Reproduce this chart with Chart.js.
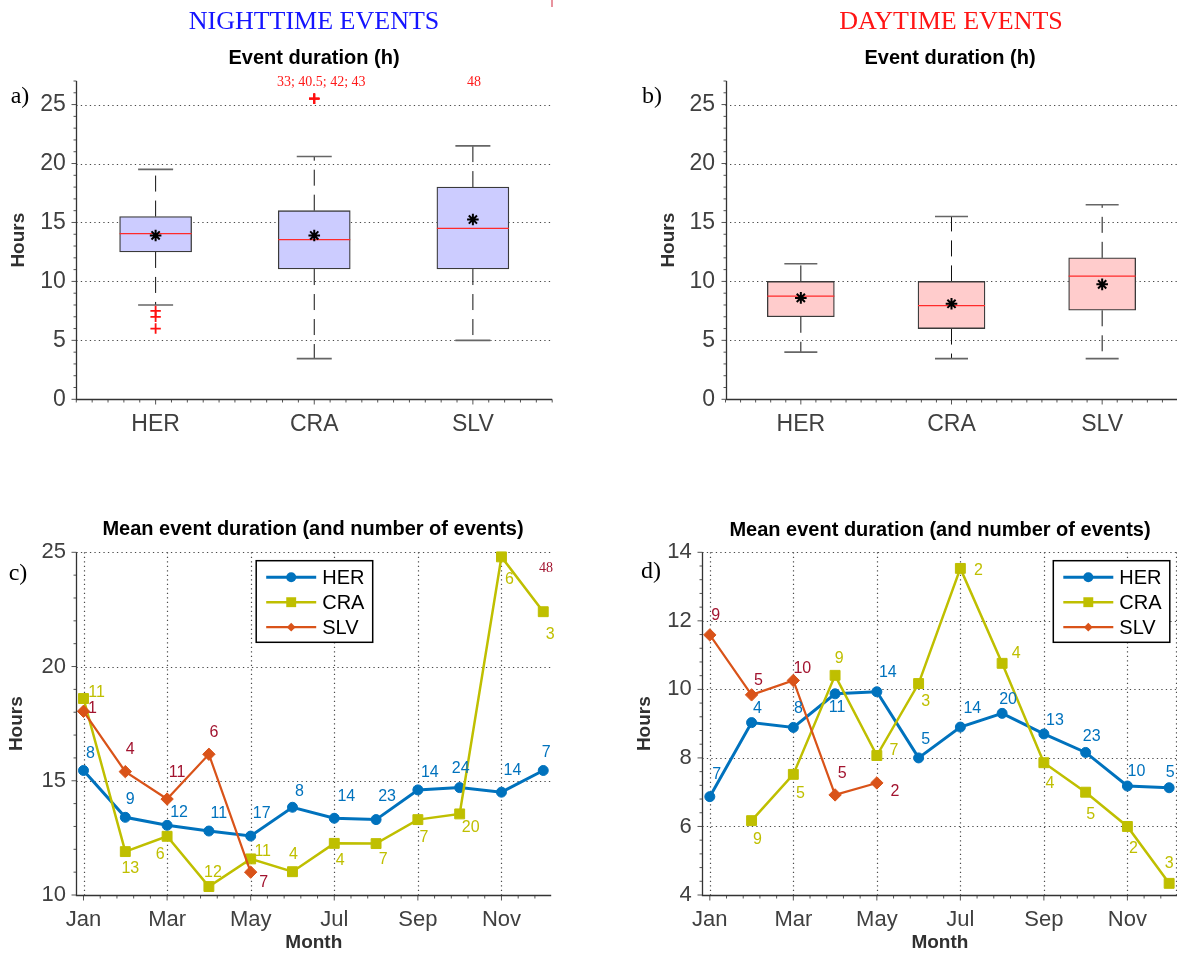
<!DOCTYPE html>
<html>
<head>
<meta charset="utf-8">
<script src="https://cdn.jsdelivr.net/npm/chart.js@4.4.1/dist/chart.umd.min.js"></script>
<style>
  html, body { margin: 0; padding: 0; background: #fff; }
  body { width: 1177px; height: 955px; overflow: hidden; position: relative; }
  canvas { position: absolute; }
  .t { position: absolute; white-space: nowrap; transform: translate(-50%, -50%); line-height: 1; }
  .sans { font-family: "Liberation Sans", Arial, Helvetica, sans-serif; }
  .serif { font-family: "Liberation Serif", "Times New Roman", serif; }
  .bold { font-weight: bold; }
</style>
</head>
<body>
<canvas id="night-box" width="560" height="460" style="left:0;top:0"></canvas>
<canvas id="day-box" width="590" height="460" style="left:590px;top:0"></canvas>
<canvas id="night-month" width="575" height="485" style="left:0;top:470px"></canvas>
<canvas id="day-month" width="590" height="485" style="left:590px;top:470px"></canvas>

<div class="t serif" style="left:314px;top:21px;font-size:26px;color:#1414ff">NIGHTTIME EVENTS</div>
<div class="t serif" style="left:951px;top:21px;font-size:26px;color:#ff1414">DAYTIME EVENTS</div>
<div class="t sans bold" style="left:314px;top:57px;font-size:20px;color:#000">Event duration (h)</div>
<div class="t sans bold" style="left:950px;top:57px;font-size:20px;color:#000">Event duration (h)</div>
<div class="t sans bold" style="left:313px;top:528px;font-size:20px;color:#000">Mean event duration (and number of events)</div>
<div class="t sans bold" style="left:940px;top:529px;font-size:20px;color:#000">Mean event duration (and number of events)</div>
<div class="t serif" style="left:20px;top:95px;font-size:24px;color:#000">a)</div>
<div class="t serif" style="left:652px;top:95px;font-size:24px;color:#000">b)</div>
<div class="t serif" style="left:18px;top:572px;font-size:24px;color:#000">c)</div>
<div class="t serif" style="left:651px;top:570px;font-size:24px;color:#000">d)</div>
<div class="t serif" style="left:546px;top:568px;font-size:14px;color:#a2142f">48</div>
<div style="position:absolute;left:551px;top:0;width:1.5px;height:7px;background:#e8939e"></div>

<script>
const SANS = '"Liberation Sans", Arial, Helvetica, sans-serif';
const SERIF = '"Liberation Serif", "Times New Roman", serif';

// ---------- event-duration box plots (hours) ----------
const GROUPS = ['HER', 'CRA', 'SLV'];

const NIGHT_LOW    = [8.0, 3.45, 5.0];
const NIGHT_Q1     = [12.5, 11.05, 11.05];
const NIGHT_MEDIAN = [14.05, 13.55, 14.5];
const NIGHT_Q3     = [15.5, 16.0, 18.0];
const NIGHT_HIGH   = [19.5, 20.6, 21.5];
const NIGHT_MEAN   = [13.9, 13.9, 15.25];
const NIGHT_OUTLIERS = [[7.5, 7.0, 6.0], [], []];
const NIGHT_OFFSCALE = [[], [33, 40.5, 42, 43], [48]];
const NIGHT_OFFSCALE_MARKED = ['CRA'];

const DAY_LOW    = [4.0, 3.45, 3.45];
const DAY_Q1     = [7.0, 6.0, 7.55];
const DAY_MEDIAN = [8.75, 7.95, 10.45];
const DAY_Q3     = [10.0, 10.0, 12.0];
const DAY_HIGH   = [11.5, 15.5, 16.5];
const DAY_MEAN   = [8.6, 8.1, 9.75];
const DAY_OUTLIERS = [[], [], []];
const DAY_OFFSCALE = [[], [], []];
const DAY_OFFSCALE_MARKED = [];

const BOX_Y_TICKS = [0, 5, 10, 15, 20, 25];
const BOX_Y_MAX = 27;
const OFFSCALE_PIN = 25.5;   // off-scale outliers are pinned just above the 25 h line

// ---------- monthly mean durations (hours) and event counts ----------
const MONTHS = ['Jan', 'Feb', 'Mar', 'Apr', 'May', 'Jun', 'Jul', 'Aug', 'Sep', 'Oct', 'Nov', 'Dec'];
const MONTH_TICKS = [1, 3, 5, 7, 9, 11];

const NIGHT_HER   = [15.45, 13.4, 13.05, 12.8, 12.58, 13.84, 13.36, 13.3, 14.6, 14.7, 14.5, 15.45];
const NIGHT_CRA   = [18.6, 11.9, 12.57, 10.37, 11.58, 11.02, 12.26, 12.25, 13.3, 13.55, 24.8, 22.4];
const NIGHT_SLV   = [18.04, 15.4, 14.2, 16.16, 11.0];
const NIGHT_HER_N = [8, 9, 12, 11, 17, 8, 14, 23, 14, 24, 14, 7];
const NIGHT_CRA_N = [11, 13, 6, 12, 11, 4, 4, 7, 7, 20, 6, 3];
const NIGHT_SLV_N = [1, 4, 11, 6, 7];
const NIGHT_Y_TICKS = [10, 15, 20, 25];

const DAY_HER   = [6.87, 9.03, 8.89, 9.87, 9.93, 8.0, 8.9, 9.3, 8.7, 8.16, 7.18, 7.13];
const DAY_CRA   = [null, 6.17, 7.52, 10.41, 8.07, 10.17, 13.53, 10.76, 7.86, 7.0, 6.0, 4.34];
const DAY_SLV   = [11.59, 9.84, 10.26, 6.92, 7.27];
const DAY_HER_N = [7, 4, 8, 11, 14, 5, 14, 20, 13, 23, 10, 5];
const DAY_CRA_N = [null, 9, 5, 9, 7, 3, 2, 4, 4, 5, 2, 3];
const DAY_SLV_N = [9, 5, 10, 5, 2];
const DAY_Y_TICKS = [4, 6, 8, 10, 12, 14];

// where each count sits relative to its marker (px)
const NIGHT_HER_TAG = [[7,-17],[5,-18],[12,-13],[10,-17],[11,-22],[7,-16],[12,-22],[11,-23],[12,-17],[1,-19],[11,-22],[3,-18]];
const NIGHT_CRA_TAG = [[13,-6],[5,17],[-7,18],[4,-14],[12,-7],[1,-17],[6,17],[7,16],[6,18],[11,14],[8,23],[7,23]];
const NIGHT_SLV_TAG = [[9,-3],[5,-22],[10,-26],[5,-22],[13,10]];
const DAY_HER_TAG = [[7,-22],[6,-14],[5,-19],[2,14],[11,-19],[7,-18],[12,-18],[6,-14],[11,-13],[6,-16],[9,-14],[1,-15]];
const DAY_CRA_TAG = [null,[6,19],[7,19],[4,-17],[17,-5],[7,18],[18,2],[14,-10],[6,21],[5,22],[6,22],[0,-20]];
const DAY_SLV_TAG = [[6,-19],[7,-14],[9,-12],[7,-21],[18,9]];

const COLOR_HER = '#0072BD';
const COLOR_CRA = '#BFBF00';
const COLOR_SLV = '#D95319';
const TAG_SLV = '#A2142F';

const TICK_COLOR = '#404040';
const AXIS_TITLE_COLOR = '#303030';

// keep the plot rectangle exactly where the layout padding puts it
const pinX = h => sc => { sc.height = h; sc.paddingLeft = 0; sc.paddingRight = 0; sc.paddingTop = 0; sc.paddingBottom = 0; };
const pinY = w => sc => { sc.width = w; sc.paddingLeft = 0; sc.paddingRight = 0; sc.paddingTop = 0; sc.paddingBottom = 0; };

// ---------- shared axis / grid drawing ----------
function matlabAxes(cfg) {
  const gen = (origin, step, lo, hi, majors) => {
    const out = [];
    for (let k = -200; k <= 400; k++) {
      const v = +(origin + k * step).toFixed(6);
      if (v < lo - 1e-6 || v > hi + 1e-6) continue;
      if (majors.some(m => Math.abs(m - v) < 1e-6)) continue;
      out.push(v);
    }
    return out;
  };
  return {
    id: 'matlabAxes',
    beforeDatasetsDraw(chart) {
      const {ctx, chartArea: a} = chart;
      const xs = chart.scales.x, ys = chart.scales.y;
      ctx.save();
      ctx.strokeStyle = '#4a4a4a';
      ctx.lineWidth = 1.2;
      ctx.setLineDash([1.3, 3.2]);
      ctx.beginPath();
      cfg.yGrid.forEach(v => {
        const p = Math.round(ys.getPixelForValue(v)) + 0.5;
        ctx.moveTo(a.left, p); ctx.lineTo(a.right, p);
      });
      (cfg.xGrid || []).forEach(v => {
        const p = Math.round(xs.getPixelForValue(v)) + 0.5;
        ctx.moveTo(p, a.top); ctx.lineTo(p, a.bottom);
      });
      if (cfg.rightEdge) {
        const p = Math.round(a.right) - 1.5;
        ctx.moveTo(p, a.top); ctx.lineTo(p, a.bottom);
      }
      ctx.stroke();
      ctx.restore();
    },
    afterDatasetsDraw(chart) {
      const {ctx, chartArea: a} = chart;
      const xs = chart.scales.x, ys = chart.scales.y;
      const L = Math.round(a.left) + 0.5, B = Math.round(a.bottom) + 0.5;
      ctx.save();
      ctx.setLineDash([]);
      ctx.strokeStyle = '#555';
      ctx.lineWidth = 1;
      ctx.beginPath();
      cfg.yTicks.forEach(v => { const p = ys.getPixelForValue(v); ctx.moveTo(L - 5, p); ctx.lineTo(L, p); });
      gen(cfg.yTicks[0], cfg.yMinor, ys.min, ys.max, cfg.yTicks).forEach(v => {
        const p = ys.getPixelForValue(v); ctx.moveTo(L - 3, p); ctx.lineTo(L, p);
      });
      cfg.xTicks.forEach(v => { const p = xs.getPixelForValue(v); ctx.moveTo(p, B); ctx.lineTo(p, B + 5); });
      gen(cfg.xTicks[0], cfg.xMinor, xs.min, xs.max, cfg.xTicks).forEach(v => {
        const p = xs.getPixelForValue(v); ctx.moveTo(p, B); ctx.lineTo(p, B + 3);
      });
      ctx.stroke();
      ctx.strokeStyle = '#333';
      ctx.lineWidth = 1.3;
      ctx.beginPath();
      ctx.moveTo(L, a.top); ctx.lineTo(L, B);
      ctx.lineTo(a.right, B);
      ctx.stroke();
      ctx.restore();
    }
  };
}

// ---------- box-plot panel ----------
function boxPanel(id, s, look) {
  const at = i => i + 1;
  const pts = arr => arr.map((v, i) => ({x: at(i), y: v}));
  const whiskers = [];
  GROUPS.forEach((g, i) => {
    whiskers.push({x: at(i), y: s.q3[i]}, {x: at(i), y: s.high[i]}, {x: at(i), y: null},
                  {x: at(i), y: s.q1[i]}, {x: at(i), y: s.low[i]}, {x: at(i), y: null});
  });
  const caps = [];
  GROUPS.forEach((g, i) => caps.push({x: at(i), y: s.high[i]}, {x: at(i), y: s.low[i]}));
  const outliers = [];
  s.outliers.forEach((list, i) => list.forEach(v => outliers.push({x: at(i), y: v})));
  s.offscale.forEach((list, i) => {
    if (s.marked.includes(GROUPS[i])) list.forEach(v => outliers.push({x: at(i), y: Math.min(v, OFFSCALE_PIN)}));
  });

  const offscaleNotes = {
    id: 'offscaleNotes',
    afterDatasetsDraw(chart) {
      const {ctx, chartArea: a} = chart;
      ctx.save();
      ctx.font = `14px ${SERIF}`;
      ctx.fillStyle = '#ff1a1a';
      ctx.textAlign = 'center';
      ctx.textBaseline = 'middle';
      s.offscale.forEach((list, i) => {
        if (!list.length) return;
        const x = chart.scales.x.getPixelForValue(at(i)) + look.noteShift[i];
        ctx.fillText(list.join('; '), x, a.top + 1);
      });
      ctx.restore();
    }
  };

  new Chart(document.getElementById(id), {
    type: 'bar',
    data: {
      datasets: [
        {type: 'line', data: pts(s.mean), showLine: false, pointStyle: 'star', pointRadius: 5.8,
         borderColor: '#000', pointBorderColor: '#000', pointBorderWidth: 2, order: 0, clip: false},
        {type: 'line', data: outliers, showLine: false, pointStyle: 'cross', pointRadius: 5.2,
         borderColor: '#ff1010', pointBorderColor: '#ff1010', pointBorderWidth: 1.8, order: 1, clip: false},
        {type: 'line', data: pts(s.median), showLine: false, pointStyle: 'line', pointRadius: look.boxWidth / 2,
         borderColor: '#ff2a2a', pointBorderColor: '#ff2a2a', pointBorderWidth: 1.3, order: 2, clip: false},
        {type: 'line', data: caps, showLine: false, pointStyle: 'line', pointRadius: look.capWidth / 2,
         borderColor: '#666', pointBorderColor: '#666', pointBorderWidth: 1.6, order: 3, clip: false},
        {type: 'bar', data: GROUPS.map((g, i) => ({x: at(i), y: [s.q1[i], s.q3[i]]})),
         barThickness: look.boxWidth, backgroundColor: look.fill, borderColor: '#3a3a3a', borderWidth: 1.3,
         borderSkipped: false, grouped: false, order: 4},
        {type: 'line', data: whiskers, borderColor: '#111', borderWidth: 1, borderDash: [16, 9],
         pointRadius: 0, spanGaps: false, order: 5}
      ]
    },
    options: {
      responsive: false, animation: false, events: [],
      layout: {padding: look.padding, autoPadding: false},
      plugins: {legend: {display: false}, tooltip: {enabled: false}},
      scales: {
        x: {
          type: 'linear', min: 0.5, max: 3.5, offset: false,
          grid: {display: false, drawTicks: false}, border: {display: false},
          afterBuildTicks: sc => { sc.ticks = GROUPS.map((g, i) => ({value: at(i)})); },
          afterFit: pinX(look.xAxisHeight),
          ticks: {callback: v => GROUPS[Math.round(v) - 1], font: {family: SANS, size: 23}, color: TICK_COLOR,
                  padding: 12, maxRotation: 0, autoSkip: false}
        },
        y: {
          type: 'linear', min: 0, max: BOX_Y_MAX,
          grid: {display: false, drawTicks: false}, border: {display: false},
          afterBuildTicks: sc => { sc.ticks = BOX_Y_TICKS.map(v => ({value: v})); },
          afterFit: pinY(look.yAxisWidth),
          ticks: {font: {family: SANS, size: 23}, color: TICK_COLOR, padding: 10.5},
          title: {display: true, text: 'Hours', font: {family: SANS, size: 19, weight: 'bold'},
                  color: AXIS_TITLE_COLOR, padding: {top: look.titlePad, bottom: 0}}
        }
      }
    },
    plugins: [matlabAxes({yGrid: [5, 10, 15, 20, 25], yTicks: BOX_Y_TICKS, yMinor: 1,
                          xTicks: [1, 2, 3], xMinor: 0.1}), offscaleNotes]
  });
}

// ---------- monthly panel ----------
function drawMarker(ctx, style, x, y, r) {
  ctx.beginPath();
  if (style === 'circle') {
    ctx.arc(x, y, r, 0, Math.PI * 2);
  } else if (style === 'rect') {
    const h = r * Math.SQRT1_2;
    ctx.rect(x - h, y - h, 2 * h, 2 * h);
  } else {
    const h = r * Math.SQRT1_2;
    ctx.moveTo(x - h, y); ctx.lineTo(x, y + h); ctx.lineTo(x + h, y); ctx.lineTo(x, y - h); ctx.closePath();
  }
  ctx.fill();
}

function monthPanel(id, series, look) {
  const tagsAndLegend = {
    id: 'tagsAndLegend',
    afterDatasetsDraw(chart) {
      const {ctx, chartArea: a} = chart;
      ctx.save();
      ctx.font = `16px ${SANS}`;
      ctx.textAlign = 'center';
      ctx.textBaseline = 'middle';
      chart.data.datasets.forEach((ds, i) => {
        const meta = chart.getDatasetMeta(i);
        ds.counts.forEach((n, j) => {
          const el = meta.data[j], sh = ds.tagShift[j];
          if (n == null || !el || !sh || el.skip) return;
          ctx.fillStyle = ds.tagColor;
          ctx.fillText(String(n), el.x + sh[0], el.y + sh[1]);
        });
      });
      // legend box
      const bx = a.left + look.legend.dx, by = a.top + look.legend.dy, bw = 116.5, bh = 81.6;
      ctx.fillStyle = '#fff';
      ctx.fillRect(bx, by, bw, bh);
      ctx.strokeStyle = '#000';
      ctx.lineWidth = 1.5;
      ctx.strokeRect(bx, by, bw, bh);
      ctx.textAlign = 'left';
      ctx.font = `20px ${SANS}`;
      chart.data.datasets.forEach((ds, i) => {
        const y = by + 16.5 + i * 25;
        ctx.strokeStyle = ds.borderColor;
        ctx.lineWidth = ds.borderWidth;
        ctx.beginPath(); ctx.moveTo(bx + 10, y); ctx.lineTo(bx + 60, y); ctx.stroke();
        ctx.fillStyle = ds.borderColor;
        drawMarker(ctx, ds.pointStyle, bx + 35, y, ds.pointRadius);
        ctx.fillStyle = '#000';
        ctx.fillText(ds.label, bx + 66, y + 1);
      });
      ctx.restore();
    }
  };

  const datasets = series.map((s, k) => ({
    label: s.name,
    data: s.values.map((v, i) => ({x: i + 1, y: v})),
    borderColor: s.color, backgroundColor: s.color, borderWidth: s.width,
    pointStyle: s.marker, pointRadius: s.radius, pointBackgroundColor: s.color,
    pointBorderColor: s.color, pointBorderWidth: 1,
    tension: 0, spanGaps: false, clip: 14, order: series.length - k,
    counts: s.counts, tagShift: s.tags, tagColor: s.tagColor
  }));

  new Chart(document.getElementById(id), {
    type: 'line',
    data: {datasets},
    options: {
      responsive: false, animation: false, events: [],
      layout: {padding: look.padding, autoPadding: false},
      plugins: {legend: {display: false}, tooltip: {enabled: false}},
      scales: {
        x: {
          type: 'linear', min: look.xMin, max: look.xMax, offset: false,
          grid: {display: false, drawTicks: false}, border: {display: false},
          afterBuildTicks: sc => { sc.ticks = MONTH_TICKS.map(v => ({value: v})); },
          afterFit: pinX(look.xAxisHeight),
          ticks: {callback: v => MONTHS[Math.round(v) - 1], font: {family: SANS, size: 22}, color: TICK_COLOR,
                  padding: 12, maxRotation: 0, autoSkip: false},
          title: {display: true, text: 'Month', font: {family: SANS, size: 19, weight: 'bold'},
                  color: AXIS_TITLE_COLOR, padding: {top: 0, bottom: 1}}
        },
        y: {
          type: 'linear', min: look.yTicks[0], max: look.yTicks[look.yTicks.length - 1],
          grid: {display: false, drawTicks: false}, border: {display: false},
          afterBuildTicks: sc => { sc.ticks = look.yTicks.map(v => ({value: v})); },
          afterFit: pinY(look.yAxisWidth),
          ticks: {font: {family: SANS, size: 22}, color: TICK_COLOR, padding: 10.5},
          title: {display: true, text: 'Hours', font: {family: SANS, size: 19, weight: 'bold'},
                  color: AXIS_TITLE_COLOR, padding: {top: look.titlePad, bottom: 0}}
        }
      }
    },
    plugins: [matlabAxes({yGrid: look.yTicks.slice(1), yTicks: look.yTicks, yMinor: look.yMinor,
                          xGrid: MONTH_TICKS, xTicks: MONTH_TICKS, xMinor: 0.4, rightEdge: look.rightEdge}),
              tagsAndLegend]
  });
}

// ---------- build the four panels ----------
boxPanel('night-box',
  {low: NIGHT_LOW, q1: NIGHT_Q1, median: NIGHT_MEDIAN, q3: NIGHT_Q3, high: NIGHT_HIGH, mean: NIGHT_MEAN,
   outliers: NIGHT_OUTLIERS, offscale: NIGHT_OFFSCALE, marked: NIGHT_OFFSCALE_MARKED},
  {padding: {left: 0, top: 81, right: 7.8, bottom: 0}, yAxisWidth: 76.3, xAxisHeight: 60.7, titlePad: 7,
   boxWidth: 72, capWidth: 35, fill: '#ccccff', noteShift: [0, 7, 1]});

boxPanel('day-box',
  {low: DAY_LOW, q1: DAY_Q1, median: DAY_MEDIAN, q3: DAY_Q3, high: DAY_HIGH, mean: DAY_MEAN,
   outliers: DAY_OUTLIERS, offscale: DAY_OFFSCALE, marked: DAY_OFFSCALE_MARKED},
  {padding: {left: 60, top: 81, right: 2.5, bottom: 0}, yAxisWidth: 75.5, xAxisHeight: 60.7, titlePad: 7,
   boxWidth: 67, capWidth: 33, fill: '#ffcccc', noteShift: [0, 0, 0]});

monthPanel('night-month', [
  {name: 'HER', values: NIGHT_HER, counts: NIGHT_HER_N, tags: NIGHT_HER_TAG, color: COLOR_HER, tagColor: COLOR_HER, width: 3, marker: 'circle', radius: 5},
  {name: 'CRA', values: NIGHT_CRA, counts: NIGHT_CRA_N, tags: NIGHT_CRA_TAG, color: COLOR_CRA, tagColor: COLOR_CRA, width: 2.5, marker: 'rect', radius: 7},
  {name: 'SLV', values: NIGHT_SLV, counts: NIGHT_SLV_N, tags: NIGHT_SLV_TAG, color: COLOR_SLV, tagColor: TAG_SLV, width: 2.2, marker: 'rectRot', radius: 6.2}
], {padding: {left: 0, top: 82.3, right: 23.8, bottom: 0}, yAxisWidth: 76.4, xAxisHeight: 60, titlePad: 5.6,
    xMin: 0.83, xMax: 12.19, yTicks: NIGHT_Y_TICKS, yMinor: 1, rightEdge: false,
    legend: {dx: 179.8, dy: 8.4}});

monthPanel('day-month', [
  {name: 'HER', values: DAY_HER, counts: DAY_HER_N, tags: DAY_HER_TAG, color: COLOR_HER, tagColor: COLOR_HER, width: 3, marker: 'circle', radius: 5},
  {name: 'CRA', values: DAY_CRA, counts: DAY_CRA_N, tags: DAY_CRA_TAG, color: COLOR_CRA, tagColor: COLOR_CRA, width: 2.5, marker: 'rect', radius: 7},
  {name: 'SLV', values: DAY_SLV, counts: DAY_SLV_N, tags: DAY_SLV_TAG, color: COLOR_SLV, tagColor: TAG_SLV, width: 2.2, marker: 'rectRot', radius: 6.2}
], {padding: {left: 40, top: 82.3, right: 2.5, bottom: 0}, yAxisWidth: 72.3, xAxisHeight: 60, titlePad: 2.9,
    xMin: 0.82, xMax: 12.2, yTicks: DAY_Y_TICKS, yMinor: 0.4, rightEdge: true,
    legend: {dx: 351, dy: 8.4}});
</script>
</body>
</html>
